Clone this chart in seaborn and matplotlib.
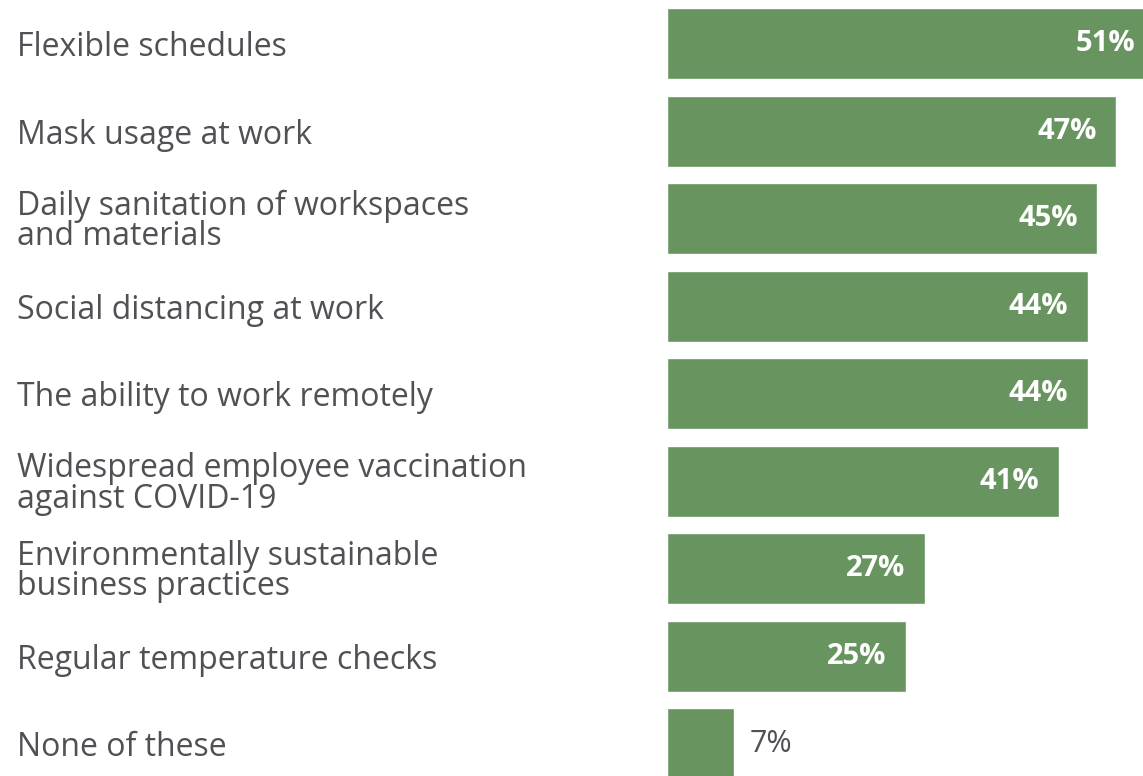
import pandas as pd
import matplotlib.pyplot as plt
import seaborn as sns

# Data
categories = [
    'Flexible schedules',
    'Mask usage at work',
    'Daily sanitation of workspaces\nand materials',
    'Social distancing at work',
    'The ability to work remotely',
    'Widespread employee vaccination\nagainst COVID-19',
    'Environmentally sustainable\nbusiness practices',
    'Regular temperature checks',
    'None of these',
]
values = [51, 47, 45, 44, 44, 41, 27, 25, 7]

df = pd.DataFrame({'item': categories, 'pct': values})

sns.set_theme(style='white')
plt.rcParams['font.family'] = ['Open Sans', 'DejaVu Sans']

fig = plt.figure(figsize=(11.43, 7.76), dpi=100)
ax = fig.add_axes([667 / 1143, 0, 1 - 667 / 1143, 1])

bar_color = '#68955f'
sns.barplot(data=df, x='pct', y='item', orient='h', color=bar_color,
            width=0.81, saturation=1, ax=ax)

ax.set_xlim(0, 49.8)
ax.set_ylim(8.37, -0.50)
ax.set_xlabel('')
ax.set_ylabel('')
ax.set_xticks([])
sns.despine(ax=ax, left=True, bottom=True)

# category labels, left aligned at the figure edge
ax.tick_params(axis='y', length=0, pad=650 * 0.72)
for lbl in ax.get_yticklabels():
    lbl.set_ha('left')
    lbl.set_fontsize(23)
    lbl.set_color('#505055')
    lbl.set_linespacing(0.9)

# value labels
for i, v in enumerate(values):
    if v > 15:
        ax.annotate(f'{v}%', xy=(v, i), xytext=(-14, 0), textcoords='offset points',
                    ha='right', va='center', color='white', fontsize=21,
                    fontweight='bold', annotation_clip=False)
    else:
        ax.annotate(f'{v}%', xy=(v, i), xytext=(11, 0), textcoords='offset points',
                    ha='left', va='center', color='#505055', fontsize=22,
                    annotation_clip=False)

fig.savefig('out.png', dpi=100)
